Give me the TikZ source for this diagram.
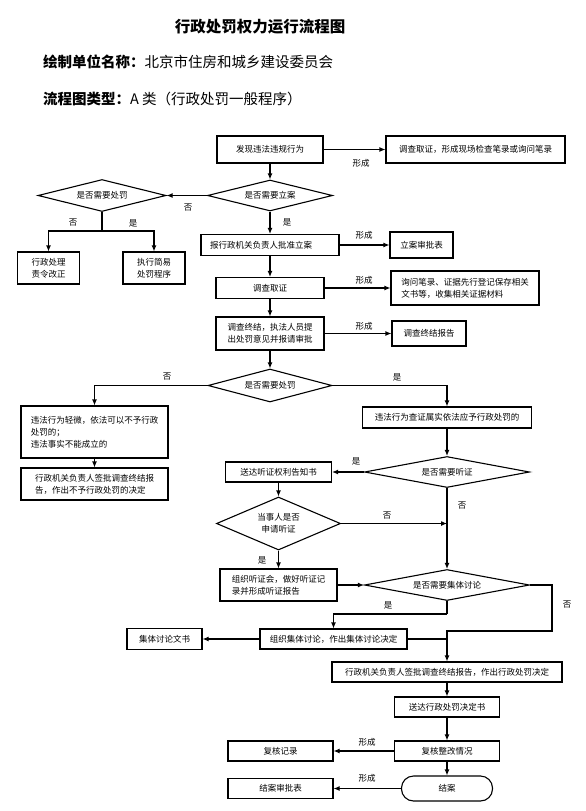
\documentclass[tikz,border=0pt]{standalone}
\usepackage{fontspec}
\setmainfont{Noto Sans CJK SC}
\usetikzlibrary{shapes.geometric,arrows.meta}
\newcommand\fsz{\fontsize{8.5}{12}\selectfont}
\begin{document}
\begin{tikzpicture}[x=1pt,y=-1pt,
  box/.style={draw, line width=1.1pt, rectangle, inner sep=2pt, font=\fsz, minimum height=20pt},
  dia/.style={draw, diamond, line width=1.1pt, inner sep=0pt, font=\fsz},
  arr/.style={line width=1.1pt, -{Latex[length=6pt,width=5pt]}},
  ln/.style={line width=1.1pt},
  lab/.style={font=\fsz, inner sep=0pt}]
\useasboundingbox (0,0) rectangle (586,811);

% titles
\node[inner sep=0pt, font=\bfseries\fontsize{15.5}{18}\selectfont] (title) at (260,27) {行政处罚权力运行流程图};
\node[inner sep=0pt, anchor=west, font=\fontsize{14.5}{17}\selectfont] (unit) at (43,62) {\textbf{绘制单位名称：}北京市住房和城乡建设委员会};
\node[inner sep=0pt, anchor=west, font=\fontsize{14.5}{17}\selectfont] (type) at (43,99) {\textbf{流程图类型：}A 类（行政处罚一般程序）};

% nodes
\node[box, minimum width=106pt, minimum height=27pt] (n1) at (270,149.5) {发现违法违规行为};
\node[box, minimum width=179pt, minimum height=27pt] (r1) at (475.5,149.5) {调查取证，形成现场检查笔录或询问笔录};
\node[dia, aspect=4, minimum width=125pt, minimum height=31pt] (d1) at (270,195.5) {是否需要立案};
\node[dia, aspect=4, minimum width=128pt, minimum height=32pt] (d0) at (102,195.5) {是否需要处罚};
\node[box, minimum width=62pt, minimum height=32pt, align=left] (b1) at (48.5,268) {行政处理\\责令改正};
\node[box, minimum width=62pt, minimum height=32pt, align=left] (b2) at (154,268) {执行简易\\处罚程序};
\node[box, inner xsep=9pt, text width=120pt, minimum height=21pt, align=left] (n2) at (270,245) {报行政机关负责人批准立案};
\node[box, minimum width=63pt, minimum height=26pt] (r2) at (421.5,245) {立案审批表};
\node[box, minimum width=108pt, minimum height=21pt] (n3) at (270,288) {调查取证};
\node[box, minimum width=148pt, minimum height=34pt, align=left] (r3) at (465,288) {询问笔录、证据先行登记保存相关\\文书等，收集相关证据材料};
\node[box, minimum width=108pt, minimum height=33pt, align=left] (n4) at (270,333.5) {调查终结，执法人员提\\出处罚意见并报请审批};
\node[box, minimum width=74pt, minimum height=25pt] (r4) at (429,333.5) {调查终结报告};
\node[dia, aspect=3.76, minimum width=124pt, minimum height=33pt] (d2) at (270,385.5) {是否需要处罚};
\node[box, minimum width=147pt, minimum height=52pt, align=left] (L1) at (94.5,432) {违法行为轻微，依法可以不予行政\\处罚的；\\违法事实不能成立的};
\node[box, minimum width=147pt, minimum height=32pt, align=left] (L2) at (94.5,484) {行政机关负责人签批调查终结报\\告，作出不予行政处罚的决定};
\node[box, minimum width=169pt, minimum height=21pt] (R1) at (447,417.5) {违法行为查证属实依法应予行政处罚的};
\node[dia, aspect=5.3, minimum width=165pt, minimum height=31pt] (d3) at (447,472) {是否需要听证};
\node[box, minimum width=106pt, minimum height=20pt] (Y1) at (278.5,472) {送达听证权利告知书};
\node[dia, aspect=2.34, minimum width=124pt, minimum height=53pt, align=center] (d4) at (278.5,523.5) {当事人是否\\申请听证};
\node[box, minimum width=117pt, minimum height=32pt, align=left] (Y2) at (278.5,585) {组织听证会，做好听证记\\录并形成听证报告};
\node[dia, aspect=5.3, minimum width=165pt, minimum height=31pt] (d5) at (447,585) {是否需要集体讨论};
\node[box, minimum width=147pt, minimum height=20pt] (G1) at (333.5,639) {组织集体讨论，作出集体讨论决定};
\node[box, minimum width=75pt, minimum height=21pt] (G2) at (164.5,639) {集体讨论文书};
\node[box, minimum width=230pt, minimum height=20pt] (P1) at (447,672) {行政机关负责人签批调查终结报告，作出行政处罚决定};
\node[box, minimum width=105pt] (P2) at (447,707) {送达行政处罚决定书};
\node[box, minimum width=105pt] (P3) at (447,751) {复核整改情况};
\node[box, minimum width=105pt] (Q1) at (280.5,751) {复核记录};
\node[draw, line width=1.1pt, rounded corners=12pt, font=\fsz, minimum width=91pt, minimum height=25pt] (P4) at (447,788.5) {结案};
\node[box, minimum width=105pt] (Q2) at (280.5,788.5) {结案审批表};

% connectors
\draw[arr] (n1) -- (r1);
\draw[arr] (n1) -- (d1);
\draw[arr] (d1) -- (d0);
\coordinate (j0) at (102,231);
\draw[ln] (d0.south) -- (j0);
\draw[arr] (j0) -| (b1.north);
\draw[arr] (j0) -| (b2.north);
\draw[arr] (d1) -- (n2);
\draw[arr] (n2) -- (r2);
\draw[arr] (n2) -- (n3);
\draw[arr] (n3) -- (r3);
\draw[arr] (n3) -- (n4);
\draw[arr] (n4) -- (r4);
\draw[arr] (n4) -- (d2);
\draw[arr] (d2.west) -| (L1.north);
\draw[arr] (d2.east) -| (R1.north);
\draw[arr] (L1) -- (L2);
\draw[arr] (R1) -- (d3);
\draw[arr] (d3.west) -- (Y1.east);
\draw[arr] (Y1) -- (d4);
\coordinate (j1) at (447,523.5);
\draw[arr] (d4.east) -- (j1);
\draw[arr] (d3) -- (d5);
\draw[arr] (d4) -- (Y2);
\draw[arr] (Y2) -- (d5);
\coordinate (j2) at (447,614);
\draw[ln] (d5.south) -- (j2);
\draw[arr] (j2) -| (G1.north);
\coordinate (k1) at (552,631);
\coordinate (k2) at (447,631);
\draw[arr] (d5.east) -| (k1) -- (k2) -- (P1.north);
\draw[ln] (G1.east) -- (G1.east -| k2);
\draw[arr] (G1) -- (G2);
\draw[arr] (P1) -- (P2);
\draw[arr] (P2) -- (P3);
\draw[arr] (P3) -- (P4);
\draw[arr] (P3) -- (Q1);
\draw[arr] (P4) -- (Q2);

% labels
\node[lab] (t1) at (361,163) {形成};
\node[lab] (t2) at (188,208) {否};
\node[lab] (t3) at (73,223) {否};
\node[lab] (t4) at (133,223) {是};
\node[lab] (t5) at (287,222) {是};
\node[lab] (t6) at (364,235) {形成};
\node[lab] (t7) at (364,280) {形成};
\node[lab] (t8) at (364,326) {形成};
\node[lab] (t9) at (167,377) {否};
\node[lab] (t10) at (397,377) {是};
\node[lab] (t11) at (356,461) {是};
\node[lab] (t12) at (387,516) {否};
\node[lab] (t13) at (462,506) {否};
\node[lab] (t14) at (262,560) {是};
\node[lab] (t15) at (388,605) {是};
\node[lab] (t16) at (567,605) {否};
\node[lab] (t17) at (367,742) {形成};
\node[lab] (t18) at (367,778) {形成};
\end{tikzpicture}
\end{document}
